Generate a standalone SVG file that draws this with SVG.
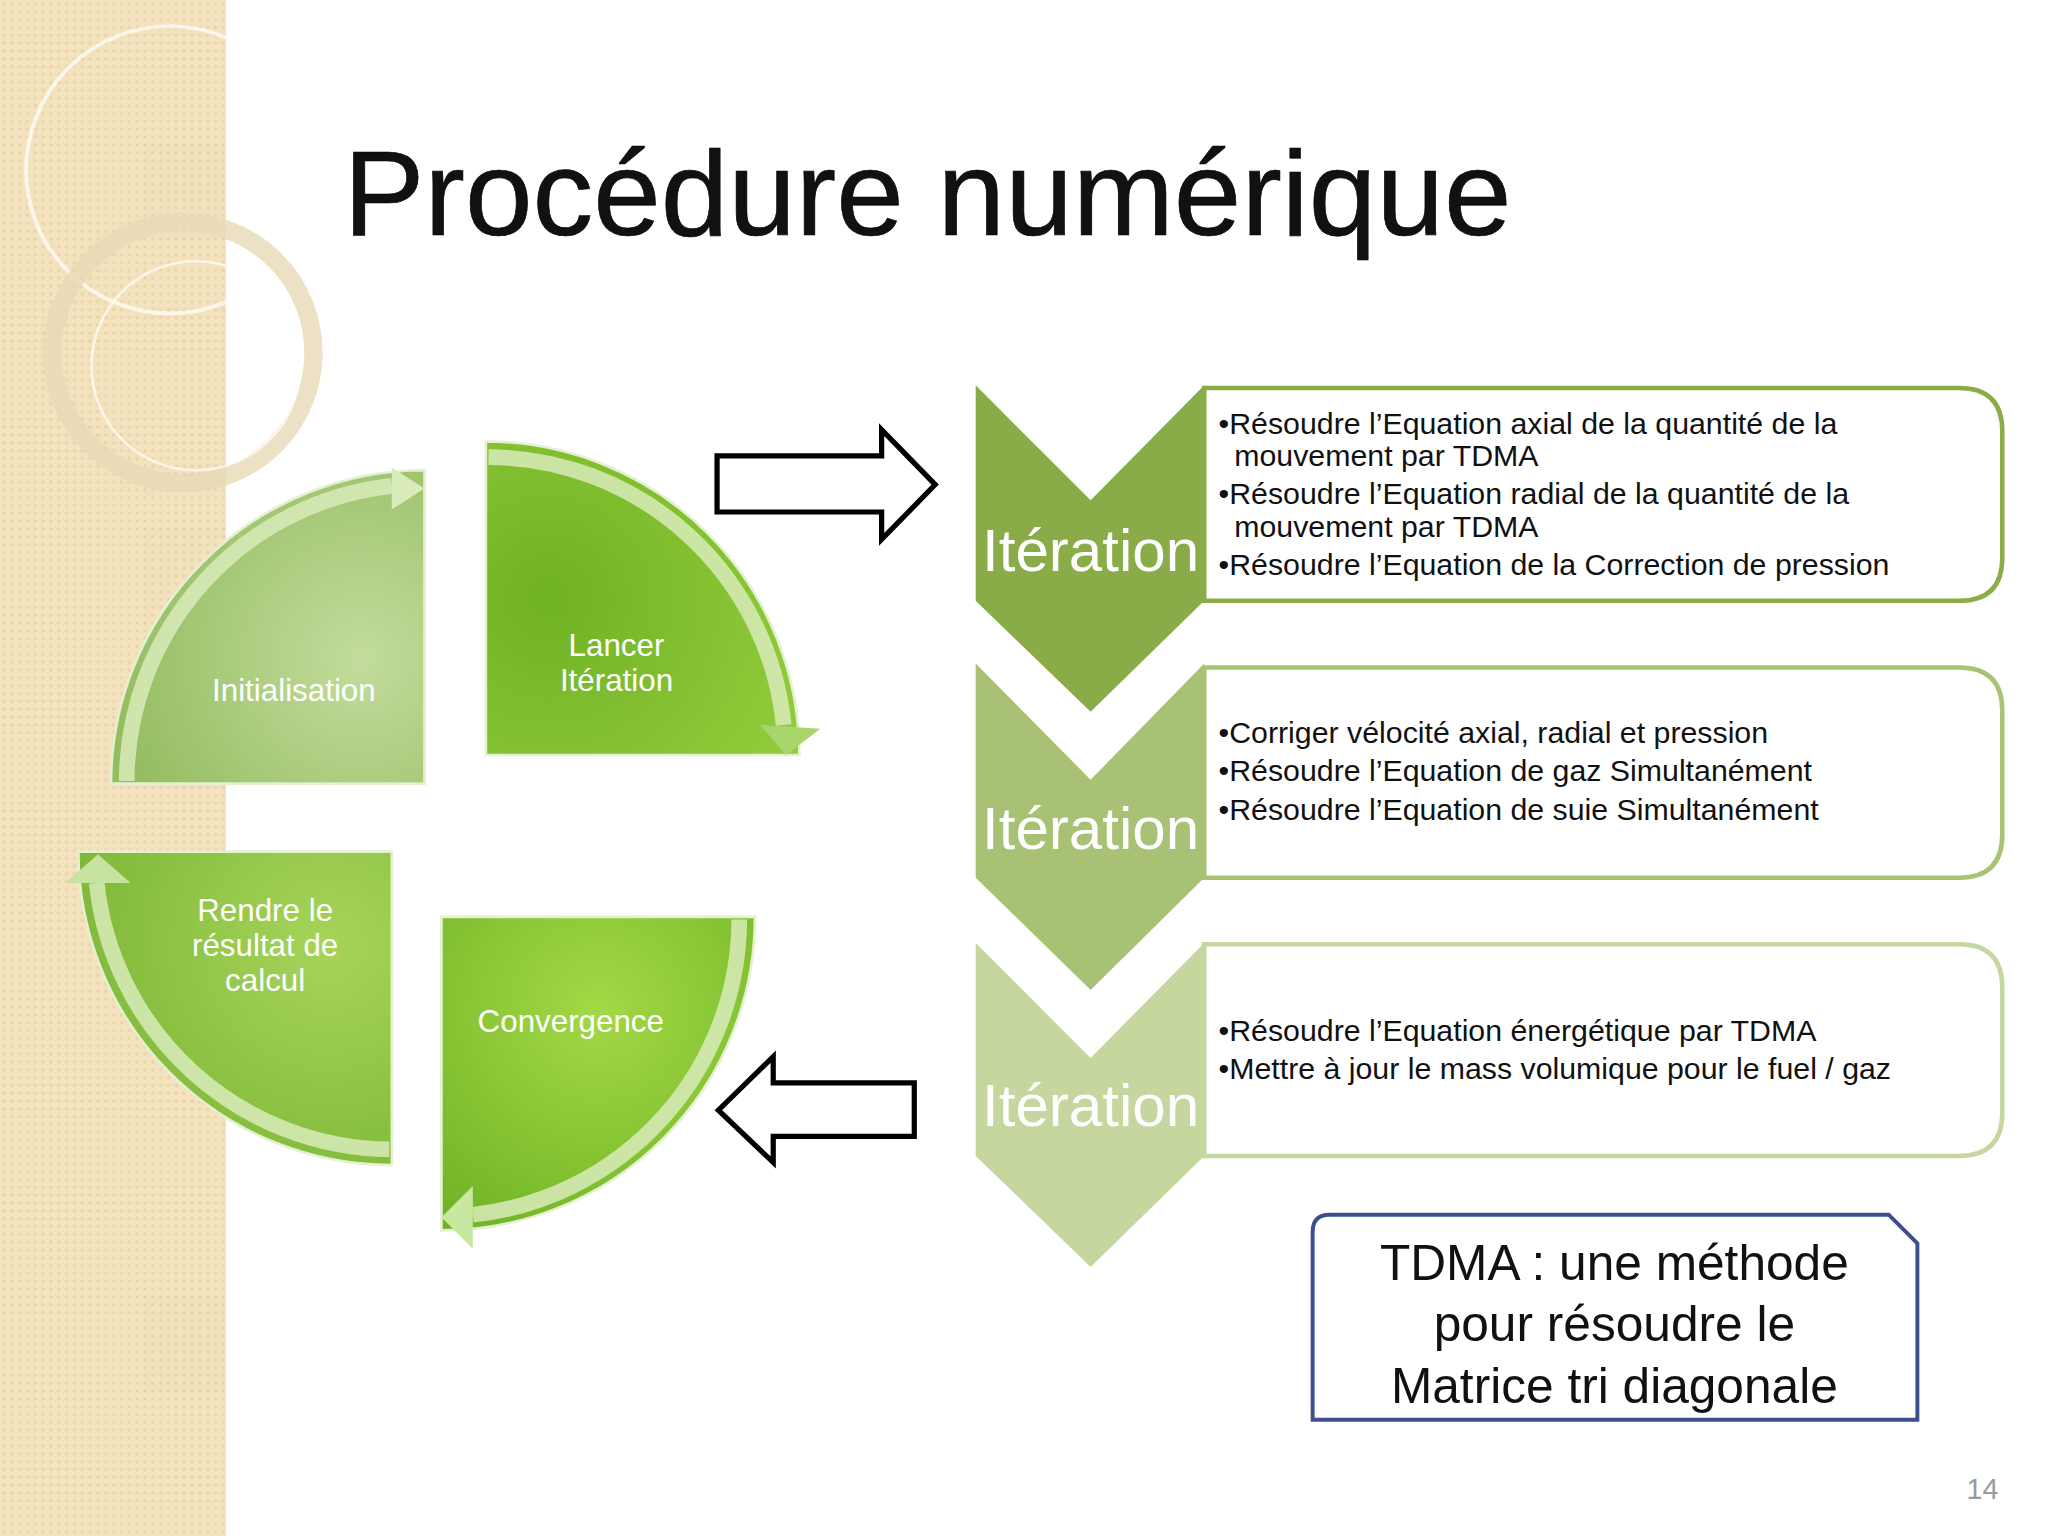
<svg xmlns="http://www.w3.org/2000/svg" width="2048" height="1536" viewBox="0 0 2048 1536">
<defs>
<pattern id="dots" width="6" height="6" patternUnits="userSpaceOnUse"><rect width="6" height="6" fill="#f3e2bd"/><circle cx="3" cy="3" r="1.3" fill="#e8d3a6"/></pattern>
<radialGradient id="gInit" cx="0.8" cy="0.6" r="0.8"><stop offset="0" stop-color="#c3dc9c"/><stop offset="1" stop-color="#94bd62"/></radialGradient>
<radialGradient id="gLan" cx="0.2" cy="0.5" r="0.9"><stop offset="0" stop-color="#6fb224"/><stop offset="1" stop-color="#93cc3c"/></radialGradient>
<radialGradient id="gRen" cx="0.8" cy="0.3" r="0.9"><stop offset="0" stop-color="#a6d45a"/><stop offset="1" stop-color="#7cb636"/></radialGradient>
<radialGradient id="gCon" cx="0.5" cy="0.3" r="0.9"><stop offset="0" stop-color="#a4d846"/><stop offset="1" stop-color="#6ab022"/></radialGradient>
<style>
.q{stroke:#e4f0d0;stroke-width:2}
.band{fill:none;stroke:#d8ebb8;stroke-width:12;stroke-opacity:0.85}
.qt{font-family:"Liberation Sans",Arial,sans-serif;font-size:24px;fill:#ffffff;text-anchor:middle}
.it{font-family:"Liberation Sans",Arial,sans-serif;font-size:46px;fill:#ffffff;text-anchor:middle}
.bt{font-family:"Liberation Sans",Arial,sans-serif;font-size:23.2px;fill:#111111}
.box{fill:#ffffff;stroke-width:3.5}
.blk{fill:#ffffff;stroke:#000;stroke-width:4}
</style>
</defs>
<g transform="scale(1.30612)">
<rect width="1568" height="1176" fill="#ffffff"/>
<rect id="strip" width="173" height="1176" fill="url(#dots)"/>
<g fill="none" stroke="#ffffff" stroke-opacity="0.7">
<circle cx="130" cy="130" r="110" stroke-width="3"/>
<circle cx="140" cy="270" r="100" stroke-width="14" stroke="#e8d9b6" stroke-opacity="0.8"/>
<circle cx="150" cy="280" r="80" stroke-width="2"/>
</g>
<text x="263" y="180" font-family="Liberation Sans,Arial,sans-serif" font-size="93" fill="#111" stroke="#000" stroke-width="0.5">Procédure numérique</text>

<g id="init">
<path class="q" d="M325,600 L85,600 A240,240 0 0 1 325,360 Z" fill="url(#gInit)"/>
<path class="band" d="M97,598 A228,228 0 0 1 300,372"/>
<polygon points="300,358 325,374 300,390" fill="#d8ebb8"/>
<text class="qt" x="225" y="537">Initialisation</text>
</g>
<g id="lancer">
<path class="q" d="M372,578 L372,338 A240,240 0 0 1 612,578 Z" fill="url(#gLan)"/>
<path class="band" d="M374,350 A228,228 0 0 1 600,555"/>
<polygon points="582,555 628,558 602,578" fill="#a9d66a"/>
<text class="qt" x="472" y="502">Lancer</text>
<text class="qt" x="472" y="529">Itération</text>
</g>
<g id="rendre">
<path class="q" d="M300,652 L300,892 A240,240 0 0 1 60,652 Z" fill="url(#gRen)"/>
<path class="band" d="M298,880 A228,228 0 0 1 74,676"/>
<polygon points="50,676 75,654 100,676" fill="#c8e3a0"/>
<text class="qt" x="203" y="705">Rendre le</text>
<text class="qt" x="203" y="732">résultat de</text>
<text class="qt" x="203" y="759">calcul</text>
</g>
<g id="convergence">
<path class="q" d="M338,702 L578,702 A240,240 0 0 1 338,942 Z" fill="url(#gCon)"/>
<path class="band" d="M566,704 A228,228 0 0 1 362,930"/>
<polygon points="362,908 338,932 362,956" fill="#c8e8a0"/>
<text class="qt" x="437" y="790">Convergence</text>
</g>

<g id="connectors">
<polygon class="blk" points="549,349 675,349 675,329 716,371 675,413 675,392 549,392"/>
<polygon class="blk" points="700,829 592,829 592,809 550,850 592,890 592,870 700,870"/>
</g>

<g id="step1">
<path class="box" stroke="#8bad48" d="M922,297 H1500 Q1533,297 1533,330 V427 Q1533,460 1500,460 H922 Z"/>
<polygon points="747,295 835,383 922,295 922,460 835,545 747,460" fill="#8aac48"/>
<text class="it" x="835" y="437">Itération</text>
<text class="bt" x="933" y="332">•Résoudre l’Equation axial de la quantité de la</text>
<text class="bt" x="945" y="357">mouvement  par TDMA</text>
<text class="bt" x="933" y="386">•Résoudre l’Equation radial de la quantité de la</text>
<text class="bt" x="945" y="411">mouvement  par TDMA</text>
<text class="bt" x="933" y="440">•Résoudre l’Equation de la Correction de pression</text>
</g>
<g id="step2">
<path class="box" stroke="#a9c273" d="M922,511 H1500 Q1533,511 1533,544 V639 Q1533,672 1500,672 H922 Z"/>
<polygon points="747,508 835,597 922,508 922,672 835,758 747,672" fill="#a8c174"/>
<text class="it" x="835" y="650">Itération</text>
<text class="bt" x="933" y="569">•Corriger vélocité axial, radial et pression</text>
<text class="bt" x="933" y="598">•Résoudre l’Equation de gaz Simultanément</text>
<text class="bt" x="933" y="628">•Résoudre l’Equation de suie Simultanément</text>
</g>
<g id="step3">
<path class="box" stroke="#c6d6a0" d="M922,723 H1500 Q1533,723 1533,756 V852 Q1533,885 1500,885 H922 Z"/>
<polygon points="747,722 835,810 922,722 922,885 835,970 747,885" fill="#c5d69e"/>
<text class="it" x="835" y="862">Itération</text>
<text class="bt" x="933" y="797">•Résoudre l’Equation énergétique par TDMA</text>
<text class="bt" x="933" y="826">•Mettre à jour le mass volumique pour le fuel / gaz</text>
</g>
<g id="tdma">
<path d="M1018,930 H1446 L1468,952 V1087 H1005 V943 Q1005,930 1018,930 Z" fill="#fff" stroke="#3d4f8a" stroke-width="3"/>
<g font-family="Liberation Sans,Arial,sans-serif" font-size="38" fill="#111" text-anchor="middle">
<text x="1236" y="980">TDMA : une méthode</text>
<text x="1236" y="1027">pour résoudre le</text>
<text x="1236" y="1074">Matrice tri diagonale</text>
</g>
</g>
<text x="1530" y="1148" font-family="Liberation Sans,Arial,sans-serif" font-size="22" fill="#9a9a9a" text-anchor="end">14</text>
</g>
</svg>
